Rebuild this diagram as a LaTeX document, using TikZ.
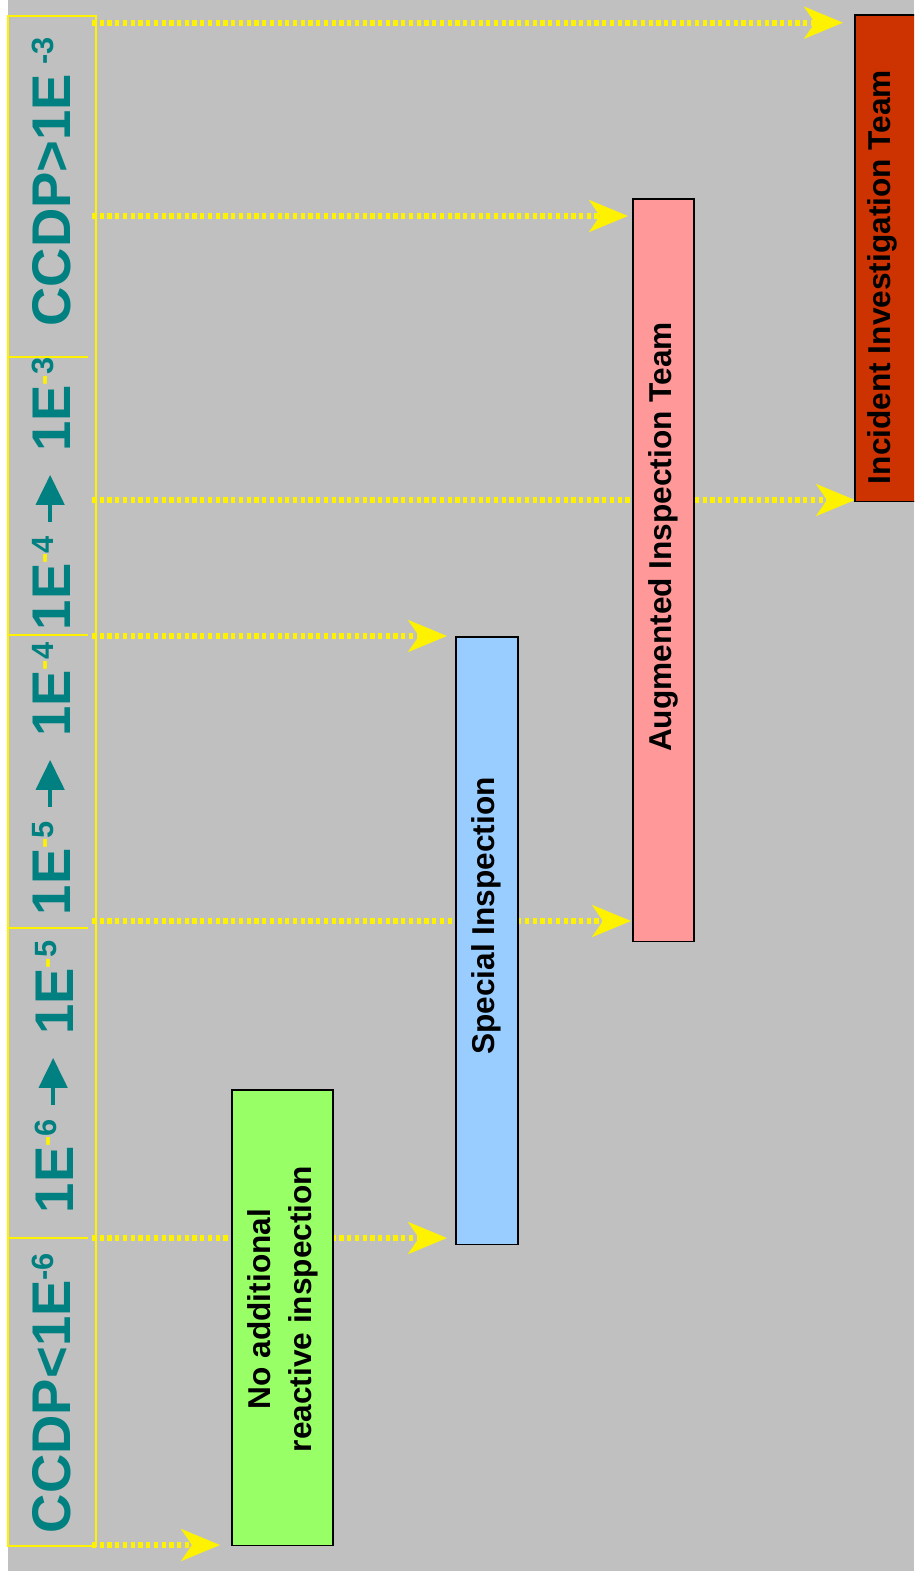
\documentclass[tikz,border=0pt]{standalone}
\usepackage{fontspec}
\setmainfont{Liberation Sans}
\usetikzlibrary{arrows.meta}

\definecolor{slidegray}{RGB}{192,192,192}
\definecolor{rangeteal}{RGB}{0,128,128}
\definecolor{noneGreen}{RGB}{153,255,102}
\definecolor{specialBlue}{RGB}{153,204,255}
\definecolor{augPink}{RGB}{255,153,153}
\definecolor{iitRed}{RGB}{204,51,0}

\pgfdeclarelayer{back}
\pgfdeclarelayer{links}
\pgfsetlayers{back,links,main}

% raised exponent: colour of the minus, digit
\newcommand{\expo}[2]{\raisebox{9.5pt}{\fontsize{17.5}{17.5}\selectfont\textcolor{#1}{-}#2}}
% range arrow between two exponents
\newcommand{\rangeto}{\hspace{7pt}\tikz[baseline=0pt]\draw[rangeteal, line width=2.3pt,
    -{Triangle[length=17pt, width=16pt]}] (0pt,11.3pt) -- (26.7pt,11.3pt);\hspace{12pt}}

\tikzset{
    colline/.style={draw=yellow, line width=0.9pt},
    rangelabel/.style={rotate=90, anchor=base, text=rangeteal, inner sep=0pt,
        font=\bfseries\fontsize{31}{31}\selectfont},
    team/.style={draw=black, line width=0.6pt, inner sep=0pt, outer sep=0pt, anchor=north west},
    teamtext/.style={rotate=90, align=center, inner sep=0pt,
        font=\bfseries\fontsize{18}{23}\selectfont},
    flow/.style={draw=yellow, line width=3.4pt, dash pattern=on 2.4pt off 2pt,
        -{Stealth[length=22pt, width=18pt, inset=6pt]}}
}

\begin{document}
\begin{tikzpicture}[x=0.02cm, y=-0.02cm]
    \useasboundingbox (0,0) rectangle (914,1578);

    % slide background
    \begin{pgfonlayer}{back}
        \fill[white] (0,0) rectangle (914,1578);
        \fill[slidegray] (8,0) rectangle (914,1571);
    \end{pgfonlayer}

    % CCDP column
    \draw[colline] (8,16) rectangle (96,1546);
    \foreach \y in {357, 635, 928, 1238}
        \draw[colline] (8,\y) -- (88,\y);

    % CCDP ranges
    \node[rangelabel] (r1) at (70,182) {CCDP>1E\,\expo{rangeteal}{3}};
    \node[rangelabel] (r2) at (70,494) {1E\expo{yellow}{4}\rangeto 1E\expo{yellow}{3}};
    \node[rangelabel] (r3) at (70,779) {1E\expo{yellow}{5}\rangeto 1E\expo{yellow}{4}};
    \node[rangelabel] (r4) at (73,1077) {1E\expo{yellow}{6}\rangeto 1E\expo{yellow}{5}};
    \node[rangelabel] (r5) at (70,1393) {CCDP<1E\expo{rangeteal}{6}};

    % response boxes
    \node[team, fill=noneGreen, minimum width=2.02cm, minimum height=9.12cm] (none) at (232,1090) {};
    \node[team, fill=specialBlue, minimum width=1.24cm, minimum height=12.16cm] (si) at (456,637) {};
    \node[team, fill=augPink, minimum width=1.22cm, minimum height=14.86cm] (ait) at (633,199) {};
    \begin{scope}
        \clip (0,0) rectangle (914,1578);
        \node[team, fill=iitRed, minimum width=1.5cm, minimum height=9.74cm] (iit) at (855,15) {};
    \end{scope}

    % box labels
    \node[teamtext] (noneText) at (283,1309) {No additional\\reactive inspection};
    \node[teamtext] (siText) at (486,916) {Special Inspection};
    \node[teamtext] (aitText) at (663,537) {Augmented Inspection Team};
    \node[teamtext] (iitText) at (882,277) {Incident Investigation Team};

    % arrows
    \begin{pgfonlayer}{links}
        \foreach \n/\y/\target/\gap in {1/22.7/iit/12, 2/216/ait/5, 3/500/iit/0,
                4/636/si/9, 5/921/ait/2, 6/1238/si/9, 7/1545/none/12}
        {
            \coordinate (s\n) at (92,\y);
            \draw[flow, shorten >=\gap*0.567pt] (s\n) -- (s\n -| \target.west);
        }
    \end{pgfonlayer}
\end{tikzpicture}
\end{document}
